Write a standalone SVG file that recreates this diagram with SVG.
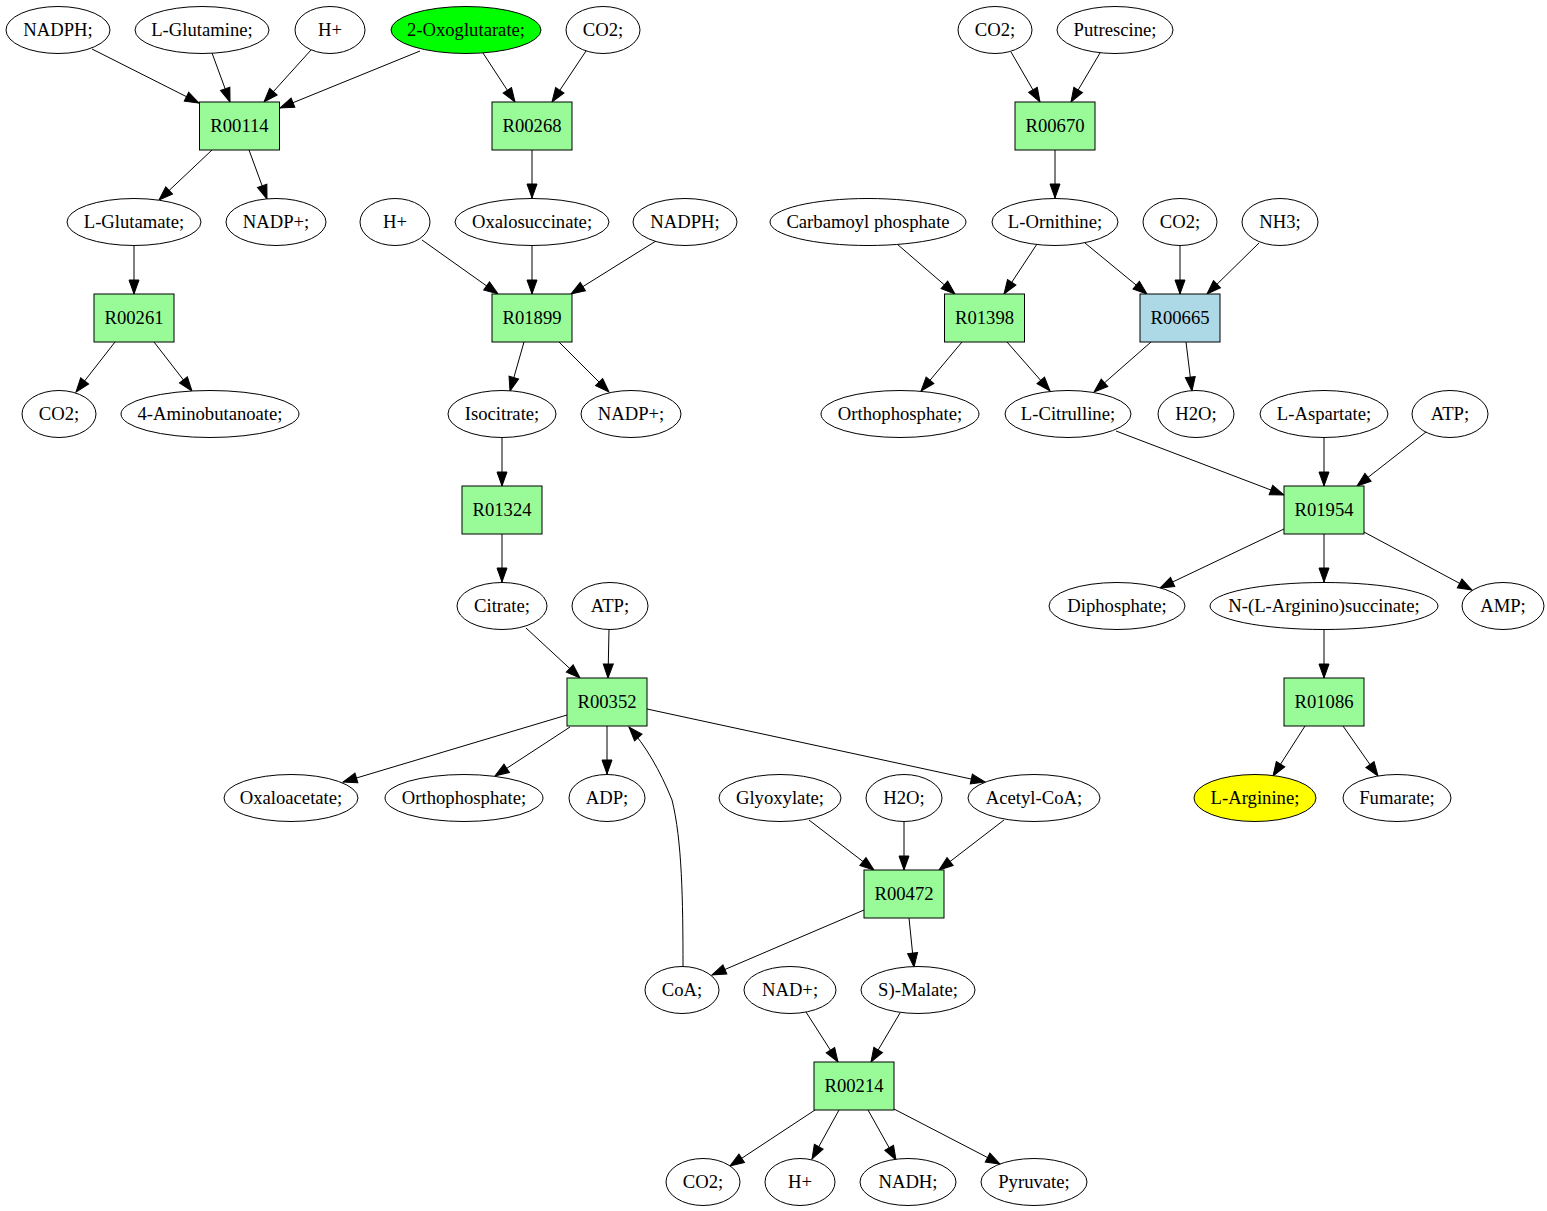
<svg xmlns="http://www.w3.org/2000/svg" width="1547" height="1211" viewBox="0 0 1547 1211">
<style>
  .bg { fill: #ffffff; }
  .met ellipse { fill: #ffffff; stroke: #000000; stroke-width: 1; }
  .rxn rect { fill: #98fb98; stroke: #000000; stroke-width: 1; }
  .rxn.blue rect { fill: #add8e6; }
  .met.green ellipse { fill: #00ff00; }
  .met.yellow ellipse { fill: #ffff00; }
  text { font-family: "Liberation Serif", "Times New Roman", serif; font-size: 18.67px; text-anchor: middle; fill: #000000; }
  #edges path { fill: none; stroke: #000000; stroke-width: 1; marker-end: url(#arr); }
</style>
<defs>
  <marker id="arr" markerUnits="userSpaceOnUse" markerWidth="16" markerHeight="12" refX="14" refY="5" orient="auto" overflow="visible">
    <path d="M0,0 L14,5 L0,10 Z" fill="#000000" stroke="#000000" stroke-width="1"/>
  </marker>
</defs>
<rect class="bg" x="0" y="0" width="1547" height="1211"/>

<g id="edges">
  <path d="M92,49 L199,103"/>
  <path d="M212,53 L230,102"/>
  <path d="M311,50 L264,102"/>
  <path d="M420,51 L280,108"/>
  <path d="M483,53 L515,102"/>
  <path d="M586,51 L552,102"/>
  <path d="M212,150 L159,200"/>
  <path d="M249,150 L267,199"/>
  <path d="M532,150 L532,198"/>
  <path d="M134,246 L134,294"/>
  <path d="M422,240 L498,294"/>
  <path d="M532,246 L532,294"/>
  <path d="M656,241 L571,294"/>
  <path d="M115,342 L76,392"/>
  <path d="M154,342 L192,391"/>
  <path d="M524,342 L510,391"/>
  <path d="M559,342 L609,392"/>
  <path d="M1011,52 L1040,102"/>
  <path d="M1100,53 L1071,102"/>
  <path d="M1055,150 L1055,198"/>
  <path d="M897,244 L955,294"/>
  <path d="M1037,244 L1004,294"/>
  <path d="M1085,243 L1147,294"/>
  <path d="M1180,246 L1180,294"/>
  <path d="M1259,243 L1207,294"/>
  <path d="M962,342 L921,391"/>
  <path d="M1007,342 L1050,391"/>
  <path d="M1151,342 L1094,392"/>
  <path d="M1186,342 L1192,391"/>
  <path d="M1116,431 L1284,495"/>
  <path d="M1324,438 L1324,486"/>
  <path d="M1426,432 L1357,486"/>
  <path d="M1284,529 L1160,588"/>
  <path d="M1324,534 L1324,582"/>
  <path d="M1364,532 L1472,590"/>
  <path d="M1324,630 L1324,678"/>
  <path d="M1305,726 L1273,776"/>
  <path d="M1343,726 L1378,776"/>
  <path d="M502,438 L502,486"/>
  <path d="M502,534 L502,582"/>
  <path d="M526,628 L580,678"/>
  <path d="M609,629 L608,678"/>
  <path d="M567,715 L343,782"/>
  <path d="M570,727 L495,776"/>
  <path d="M607,726 L607,774"/>
  <path d="M647,709 L985,782"/>
  <path d="M683,967 C683,900 682,840 672,800 C660,770 645,745 629,727"/>
  <path d="M809,820 L874,870"/>
  <path d="M904,822 L904,870"/>
  <path d="M1004,820 L939,870"/>
  <path d="M864,910 L712,975"/>
  <path d="M909,918 L914,967"/>
  <path d="M806,1012 L838,1062"/>
  <path d="M900,1013 L871,1062"/>
  <path d="M815,1110 L730,1166"/>
  <path d="M839,1110 L812,1159"/>
  <path d="M868,1110 L896,1160"/>
  <path d="M894,1109 L1000,1164"/>
</g>

<!-- Row 1 -->
<g id="m_NADPH_1" class="met"><ellipse cx="58" cy="30" rx="52" ry="23.5"/><text x="58" y="36">NADPH;</text></g>
<g id="m_L_Glutamine" class="met"><ellipse cx="202" cy="30" rx="67" ry="23.5"/><text x="202" y="36">L-Glutamine;</text></g>
<g id="m_Hplus_1" class="met"><ellipse cx="330" cy="30" rx="35" ry="23.5"/><text x="330" y="36">H+</text></g>
<g id="m_2_Oxoglutarate" class="met green"><ellipse cx="466" cy="30" rx="75" ry="23.5"/><text x="466" y="36">2-Oxoglutarate;</text></g>
<g id="m_CO2_1" class="met"><ellipse cx="603" cy="30" rx="37" ry="23.5"/><text x="603" y="36">CO2;</text></g>
<g id="m_CO2_2" class="met"><ellipse cx="995" cy="30" rx="37" ry="23.5"/><text x="995" y="36">CO2;</text></g>
<g id="m_Putrescine" class="met"><ellipse cx="1115" cy="30" rx="58" ry="23.5"/><text x="1115" y="36">Putrescine;</text></g>

<!-- Row 2 reactions -->
<g id="r_R00114" class="rxn"><rect x="199.5" y="102" width="80" height="48"/><text x="239.5" y="132">R00114</text></g>
<g id="r_R00268" class="rxn"><rect x="492" y="102" width="80" height="48"/><text x="532" y="132">R00268</text></g>
<g id="r_R00670" class="rxn"><rect x="1015" y="102" width="80" height="48"/><text x="1055" y="132">R00670</text></g>

<!-- Row 3 -->
<g id="m_L_Glutamate" class="met"><ellipse cx="134" cy="222" rx="67" ry="23.5"/><text x="134" y="228">L-Glutamate;</text></g>
<g id="m_NADPplus_1" class="met"><ellipse cx="276" cy="222" rx="50" ry="23.5"/><text x="276" y="228">NADP+;</text></g>
<g id="m_Hplus_2" class="met"><ellipse cx="395" cy="222" rx="35" ry="23.5"/><text x="395" y="228">H+</text></g>
<g id="m_Oxalosuccinate" class="met"><ellipse cx="532" cy="222" rx="77" ry="23.5"/><text x="532" y="228">Oxalosuccinate;</text></g>
<g id="m_NADPH_2" class="met"><ellipse cx="685" cy="222" rx="52" ry="23.5"/><text x="685" y="228">NADPH;</text></g>
<g id="m_Carbamoyl_phosphate" class="met"><ellipse cx="868" cy="222" rx="98" ry="23.5"/><text x="868" y="228">Carbamoyl phosphate</text></g>
<g id="m_L_Ornithine" class="met"><ellipse cx="1055" cy="222" rx="63" ry="23.5"/><text x="1055" y="228">L-Ornithine;</text></g>
<g id="m_CO2_3" class="met"><ellipse cx="1180" cy="222" rx="37" ry="23.5"/><text x="1180" y="228">CO2;</text></g>
<g id="m_NH3" class="met"><ellipse cx="1280" cy="222" rx="38" ry="23.5"/><text x="1280" y="228">NH3;</text></g>

<!-- Row 4 reactions -->
<g id="r_R00261" class="rxn"><rect x="94" y="294" width="80" height="48"/><text x="134" y="324">R00261</text></g>
<g id="r_R01899" class="rxn"><rect x="492" y="294" width="80" height="48"/><text x="532" y="324">R01899</text></g>
<g id="r_R01398" class="rxn"><rect x="944.5" y="294" width="80" height="48"/><text x="984.5" y="324">R01398</text></g>
<g id="r_R00665" class="rxn blue"><rect x="1140" y="294" width="80" height="48"/><text x="1180" y="324">R00665</text></g>

<!-- Row 5 -->
<g id="m_CO2_4" class="met"><ellipse cx="59" cy="414" rx="37" ry="23.5"/><text x="59" y="420">CO2;</text></g>
<g id="m_4_Aminobutanoate" class="met"><ellipse cx="210" cy="414" rx="89" ry="23.5"/><text x="210" y="420">4-Aminobutanoate;</text></g>
<g id="m_Isocitrate" class="met"><ellipse cx="502" cy="414" rx="54" ry="23.5"/><text x="502" y="420">Isocitrate;</text></g>
<g id="m_NADPplus_2" class="met"><ellipse cx="631" cy="414" rx="50" ry="23.5"/><text x="631" y="420">NADP+;</text></g>
<g id="m_Orthophosphate_1" class="met"><ellipse cx="900" cy="414" rx="79" ry="23.5"/><text x="900" y="420">Orthophosphate;</text></g>
<g id="m_L_Citrulline" class="met"><ellipse cx="1068" cy="414" rx="63" ry="23.5"/><text x="1068" y="420">L-Citrulline;</text></g>
<g id="m_H2O_1" class="met"><ellipse cx="1196" cy="414" rx="38" ry="23.5"/><text x="1196" y="420">H2O;</text></g>
<g id="m_L_Aspartate" class="met"><ellipse cx="1324" cy="414" rx="64" ry="23.5"/><text x="1324" y="420">L-Aspartate;</text></g>
<g id="m_ATP_1" class="met"><ellipse cx="1450" cy="414" rx="38" ry="23.5"/><text x="1450" y="420">ATP;</text></g>

<!-- Row 6 reactions -->
<g id="r_R01324" class="rxn"><rect x="462" y="486" width="80" height="48"/><text x="502" y="516">R01324</text></g>
<g id="r_R01954" class="rxn"><rect x="1284" y="486" width="80" height="48"/><text x="1324" y="516">R01954</text></g>

<!-- Row 7 -->
<g id="m_Citrate" class="met"><ellipse cx="502" cy="606" rx="45" ry="23.5"/><text x="502" y="612">Citrate;</text></g>
<g id="m_ATP_2" class="met"><ellipse cx="610" cy="606" rx="38" ry="23.5"/><text x="610" y="612">ATP;</text></g>
<g id="m_Diphosphate" class="met"><ellipse cx="1117" cy="606" rx="68" ry="23.5"/><text x="1117" y="612">Diphosphate;</text></g>
<g id="m_N_L_Arginino_succinate" class="met"><ellipse cx="1324" cy="606" rx="114" ry="23.5"/><text x="1324" y="612">N-(L-Arginino)succinate;</text></g>
<g id="m_AMP" class="met"><ellipse cx="1503" cy="606" rx="41" ry="23.5"/><text x="1503" y="612">AMP;</text></g>

<!-- Row 8 reactions -->
<g id="r_R00352" class="rxn"><rect x="567" y="678" width="80" height="48"/><text x="607" y="708">R00352</text></g>
<g id="r_R01086" class="rxn"><rect x="1284" y="678" width="80" height="48"/><text x="1324" y="708">R01086</text></g>

<!-- Row 9 -->
<g id="m_Oxaloacetate" class="met"><ellipse cx="291" cy="798" rx="67" ry="23.5"/><text x="291" y="804">Oxaloacetate;</text></g>
<g id="m_Orthophosphate_2" class="met"><ellipse cx="464" cy="798" rx="79" ry="23.5"/><text x="464" y="804">Orthophosphate;</text></g>
<g id="m_ADP" class="met"><ellipse cx="607" cy="798" rx="38" ry="23.5"/><text x="607" y="804">ADP;</text></g>
<g id="m_Glyoxylate" class="met"><ellipse cx="780" cy="798" rx="61" ry="23.5"/><text x="780" y="804">Glyoxylate;</text></g>
<g id="m_H2O_2" class="met"><ellipse cx="904" cy="798" rx="38" ry="23.5"/><text x="904" y="804">H2O;</text></g>
<g id="m_Acetyl_CoA" class="met"><ellipse cx="1034" cy="798" rx="66" ry="23.5"/><text x="1034" y="804">Acetyl-CoA;</text></g>
<g id="m_L_Arginine" class="met yellow"><ellipse cx="1255" cy="798" rx="61" ry="23.5"/><text x="1255" y="804">L-Arginine;</text></g>
<g id="m_Fumarate" class="met"><ellipse cx="1397" cy="798" rx="54" ry="23.5"/><text x="1397" y="804">Fumarate;</text></g>

<!-- Row 10 reaction -->
<g id="r_R00472" class="rxn"><rect x="864" y="870" width="80" height="48"/><text x="904" y="900">R00472</text></g>

<!-- Row 11 -->
<g id="m_CoA" class="met"><ellipse cx="682" cy="990" rx="37" ry="23.5"/><text x="682" y="996">CoA;</text></g>
<g id="m_NADplus" class="met"><ellipse cx="790" cy="990" rx="46" ry="23.5"/><text x="790" y="996">NAD+;</text></g>
<g id="m_S_Malate" class="met"><ellipse cx="918" cy="990" rx="57" ry="23.5"/><text x="918" y="996">S)-Malate;</text></g>

<!-- Row 12 reaction -->
<g id="r_R00214" class="rxn"><rect x="814" y="1062" width="80" height="48"/><text x="854" y="1092">R00214</text></g>

<!-- Row 13 -->
<g id="m_CO2_5" class="met"><ellipse cx="703" cy="1182" rx="37" ry="23.5"/><text x="703" y="1188">CO2;</text></g>
<g id="m_Hplus_3" class="met"><ellipse cx="800" cy="1182" rx="35" ry="23.5"/><text x="800" y="1188">H+</text></g>
<g id="m_NADH" class="met"><ellipse cx="908" cy="1182" rx="48" ry="23.5"/><text x="908" y="1188">NADH;</text></g>
<g id="m_Pyruvate" class="met"><ellipse cx="1034" cy="1182" rx="53" ry="23.5"/><text x="1034" y="1188">Pyruvate;</text></g>
</svg>
